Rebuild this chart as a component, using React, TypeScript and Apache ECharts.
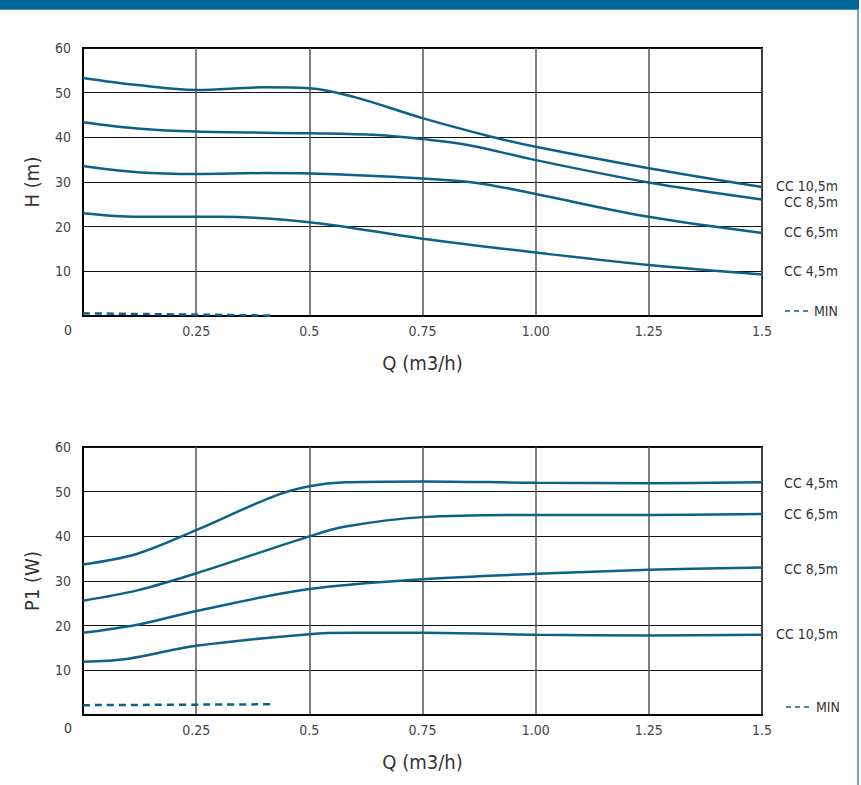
import React, { useEffect, useRef } from "react";
import * as echarts from "echarts";

// ---- data ----
const xTickLabels = ["0", "0.25", "0.5", "0.75", "1.00", "1.25", "1.5"];
const yTickLabels = ["0", "10", "20", "30", "40", "50", "60"];

// Head curves H (m) vs Q (m3/h)
const hCC105: [number, number][] = [
  [0, 53.3], [0.12, 51.7], [0.25, 50.6], [0.4, 51.2], [0.5, 51.0], [0.6, 49.0],
  [0.75, 44.3], [0.9, 40.2], [1.0, 37.9], [1.25, 33.1], [1.5, 28.9],
];
const hCC85: [number, number][] = [
  [0, 43.4], [0.12, 42.0], [0.25, 41.3], [0.5, 40.9], [0.65, 40.5], [0.75, 39.6],
  [0.85, 38.3], [1.0, 34.9], [1.25, 29.9], [1.5, 26.1],
];
const hCC65: [number, number][] = [
  [0, 33.6], [0.12, 32.2], [0.25, 31.8], [0.4, 32.0], [0.5, 31.9], [0.75, 30.8],
  [0.87, 29.8], [1.0, 27.3], [1.25, 22.2], [1.5, 18.6],
];
const hCC45: [number, number][] = [
  [0, 23.0], [0.12, 22.2], [0.3, 22.2], [0.5, 21.0], [0.75, 17.3], [1.0, 14.2],
  [1.25, 11.4], [1.5, 9.3],
];
const hMIN: [number, number][] = [[0, 0.6], [0.42, 0.1]];

// Power curves P1 (W) vs Q (m3/h)
const pCC45: [number, number][] = [
  [0, 33.7], [0.12, 36.1], [0.25, 41.4], [0.42, 48.9], [0.5, 51.2], [0.58, 52.1],
  [0.75, 52.3], [1.0, 52.0], [1.25, 51.9], [1.5, 52.1],
];
const pCC65: [number, number][] = [
  [0, 25.6], [0.12, 27.9], [0.25, 31.7], [0.5, 40.0], [0.58, 42.2], [0.75, 44.3],
  [1.0, 44.8], [1.25, 44.8], [1.5, 45.0],
];
const pCC85: [number, number][] = [
  [0, 18.4], [0.12, 20.2], [0.25, 23.3], [0.5, 28.2], [0.75, 30.4], [1.0, 31.6],
  [1.25, 32.5], [1.5, 33.0],
];
const pCC105: [number, number][] = [
  [0, 11.9], [0.1, 12.6], [0.25, 15.5], [0.5, 18.1], [0.6, 18.4], [0.75, 18.4],
  [1.0, 17.95], [1.25, 17.8], [1.5, 17.95],
];
const pMIN: [number, number][] = [[0, 2.2], [0.42, 2.4]];

const topLabels = ["CC 10,5m", "CC 8,5m", "CC 6,5m", "CC 4,5m"];
const bottomLabels = ["CC 4,5m", "CC 6,5m", "CC 8,5m", "CC 10,5m"];

const LINE = "#0d6186";
const FONT = "'DejaVu Sans Condensed', 'Liberation Sans Narrow', Roboto, sans-serif";

export default function App() {
  const ref = useRef<HTMLDivElement>(null);

  useEffect(() => {
    if (!ref.current) return;
    const chart = echarts.init(ref.current, undefined, { renderer: "svg" });

    const grids = [
      { left: 83, top: 48, width: 679, height: 268, show: true, borderColor: "#000", borderWidth: 2 },
      { left: 83, top: 447, width: 679, height: 268, show: true, borderColor: "#000", borderWidth: 2 },
    ];

    const xAx = (gi: number) => ({
      type: "value",
      gridIndex: gi,
      min: 0,
      max: 1.5,
      interval: 0.25,
      name: "Q (m3/h)",
      nameLocation: "middle",
      nameGap: 37,
      nameTextStyle: { color: "#333", fontSize: 20, fontFamily: FONT },
      axisLine: { show: true, lineStyle: { color: "#000", width: 2 } },
      axisTick: { show: false },
      axisLabel: {
        color: "#444",
        fontSize: 14,
        fontFamily: FONT,
        margin: 8,
        formatter: (v: number) => {
          const i = Math.round(v / 0.25);
          return i === 0 ? "" : xTickLabels[i] ?? "";
        },
      },
      splitLine: { show: true, lineStyle: { color: "#555", width: 1.5 } },
    });

    const yAx = (gi: number, name: string) => ({
      type: "value",
      gridIndex: gi,
      min: 0,
      max: 60,
      interval: 10,
      name,
      nameLocation: "middle",
      nameGap: 41,
      nameTextStyle: { color: "#333", fontSize: 20, fontFamily: FONT },
      axisLine: { show: true, lineStyle: { color: "#000", width: 2 } },
      axisTick: { show: false },
      axisLabel: {
        color: "#444",
        fontSize: 14,
        fontFamily: FONT,
        margin: 12,
        formatter: (v: number) => {
          const i = Math.round(v / 10);
          return i === 0 ? "" : yTickLabels[i] ?? "";
        },
      },
      splitLine: { show: true, lineStyle: { color: "#111", width: 1 } },
    });

    const line = (data: [number, number][], gi: number, dashed = false) => ({
      type: "line",
      xAxisIndex: gi,
      yAxisIndex: gi,
      data,
      smooth: 0.35,
      showSymbol: false,
      symbol: "none",
      lineStyle: { color: LINE, width: 2.5, type: dashed ? [7, 5] : "solid" },
      silent: true,
    });

    const txt = (text: string, x: number, y: number, align = "right", size = 14) => ({
      type: "text",
      x,
      y,
      style: {
        text,
        fill: "#333",
        fontSize: size,
        fontFamily: FONT,
        align,
        verticalAlign: "middle",
      },
    });

    const topY = [186, 201.5, 231.5, 271];
    const botY = [483, 513.5, 568.5, 634];

    const graphics: any[] = [
      { type: "rect", shape: { x: 0, y: 0, width: 859, height: 9 }, style: { fill: "#006699" } },
      { type: "line", shape: { x1: 0, y1: 9.5, x2: 859, y2: 9.5 }, style: { stroke: "#4a8fbd", lineWidth: 1 } },
      { type: "line", shape: { x1: 858, y1: 9, x2: 858, y2: 785 }, style: { stroke: "#3d8cc4", lineWidth: 1.5 } },
      txt("0", 68, 330, "center", 14),
      txt("0", 68, 728, "center", 14),
      ...topLabels.map((t, i) => txt(t, 838, topY[i])),
      ...bottomLabels.map((t, i) => txt(t, 838, botY[i])),
      { type: "line", shape: { x1: 785, y1: 311, x2: 810, y2: 311 }, style: { stroke: LINE, lineWidth: 1.5, lineDash: [5, 4] } },
      txt("MIN", 838, 311),
      { type: "line", shape: { x1: 786, y1: 707, x2: 811, y2: 707 }, style: { stroke: LINE, lineWidth: 1.5, lineDash: [5, 4] } },
      txt("MIN", 840, 707),
    ];

    chart.setOption({
      animation: false,
      backgroundColor: "#fff",
      grid: grids,
      xAxis: [xAx(0), xAx(1)],
      yAxis: [yAx(0, "H (m)"), yAx(1, "P1 (W)")],
      series: [
        line(hCC105, 0),
        line(hCC85, 0),
        line(hCC65, 0),
        line(hCC45, 0),
        line(hMIN, 0, true),
        line(pCC45, 1),
        line(pCC65, 1),
        line(pCC85, 1),
        line(pCC105, 1),
        line(pMIN, 1, true),
      ],
      graphic: graphics,
    });

    return () => chart.dispose();
  }, []);

  return (
    <div
      ref={ref}
      style={{ position: "fixed", left: 0, top: 0, width: 861, height: 785, background: "#fff" }}
    />
  );
}
